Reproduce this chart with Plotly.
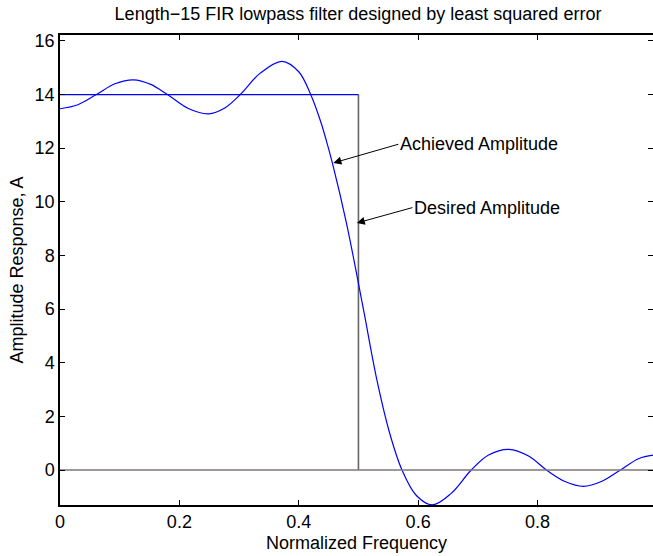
import plotly.graph_objects as go

# Achieved amplitude response
freq = [0.000, 0.030, 0.061, 0.092, 0.123, 0.152, 0.180, 0.215, 0.249, 0.276,
        0.302, 0.335, 0.372, 0.400, 0.420, 0.436, 0.446, 0.4565, 0.480, 0.500,
        0.510, 0.531, 0.552, 0.573, 0.597, 0.624, 0.655, 0.689, 0.718, 0.752,
        0.785, 0.815, 0.846, 0.877, 0.908, 0.939, 0.970, 0.995]
achieved = [13.47, 13.62, 14.00, 14.40, 14.55, 14.38, 14.00, 13.48, 13.28, 13.50,
            14.00, 14.79, 15.24, 14.85, 14.00, 13.04, 12.30, 11.43, 9.20, 6.96,
            5.80, 3.35, 1.40, 0.00, -0.95, -1.30, -0.88, 0.00, 0.56, 0.77,
            0.52, 0.00, -0.43, -0.61, -0.42, 0.00, 0.43, 0.56]

# Desired amplitude
pass_f = [0.0, 0.5]
pass_a = [14, 14]
edge_f = [0.5, 0.5]
edge_a = [14, 0]
stop_f = [0.0, 1.0]
stop_a = [0, 0]

xticks = [0, 0.2, 0.4, 0.6, 0.8]
yticks = [0, 2, 4, 6, 8, 10, 12, 14, 16]
xrange_ = [0, 0.9935]
yrange_ = [-1.305, 16.22]

FONT = "Liberation Sans, Arial, Helvetica, sans-serif"

fig = go.Figure()
fig.add_trace(go.Scatter(x=stop_f, y=stop_a, mode="lines", yaxis="y2",
                         line=dict(color="rgb(128,116,124)", width=1.3),
                         hoverinfo="skip"))
fig.add_trace(go.Scatter(x=edge_f, y=edge_a, mode="lines",
                         line=dict(color="#666666", width=1.6), hoverinfo="skip"))
fig.add_trace(go.Scatter(x=pass_f, y=pass_a, mode="lines",
                         line=dict(color="#0000ff", width=1.3), hoverinfo="skip"))
fig.add_trace(go.Scatter(x=freq, y=achieved, mode="lines",
                         line=dict(color="#0000ff", width=1.2, shape="spline", smoothing=1.0),
                         hoverinfo="skip"))

fig.add_annotation(x=0.458, y=11.45, ax=65, ay=-18.7, text="Achieved Amplitude",
                   xanchor="left", yanchor="middle", showarrow=True,
                   arrowhead=2, arrowsize=1.6, arrowwidth=1, arrowcolor="black",
                   font=dict(family=FONT, size=18, color="black"))
fig.add_annotation(x=0.4973, y=9.21, ax=55.6, ay=-15.4, text="Desired Amplitude",
                   xanchor="left", yanchor="middle", showarrow=True,
                   arrowhead=2, arrowsize=1.6, arrowwidth=1, arrowcolor="black",
                   font=dict(family=FONT, size=18, color="black"))

fig.update_layout(
    width=653, height=556, autosize=False,
    margin=dict(l=60, r=0, t=35, b=51, pad=0),
    paper_bgcolor="white", plot_bgcolor="white",
    showlegend=False,
    font=dict(family=FONT, size=18, color="black"),
    title=dict(text="Length\u221215 FIR lowpass filter designed by least squared error",
               x=(60 + 656) / 2 / 653, xanchor="center", y=1 - 14 / 556, yanchor="middle",
               font=dict(family=FONT, size=18, color="black")),
    xaxis=dict(range=xrange_, tickvals=xticks, ticktext=[str(v) for v in xticks],
               ticks="inside", ticklen=5, tickcolor="black", showline=True,
               linecolor="black", linewidth=1.5, mirror="ticks", showgrid=False,
               zeroline=False,
               title=dict(text="Normalized Frequency", standoff=5,
                          font=dict(family=FONT, size=18))),
    yaxis=dict(range=yrange_, tickvals=yticks, ticks="inside", ticklen=5,
               tickcolor="black", showline=True, linecolor="black", linewidth=1.5,
               showgrid=False, zeroline=False,
               title=dict(text="Amplitude Response, A", standoff=6,
                          font=dict(family=FONT, size=18))),
    yaxis2=dict(range=yrange_, tickvals=yticks, overlaying="y", side="right",
                ticks="inside", ticklen=5, tickcolor="black", showline=False,
                showticklabels=False, showgrid=False, zeroline=False),
)

fig.write_html("out.html")
